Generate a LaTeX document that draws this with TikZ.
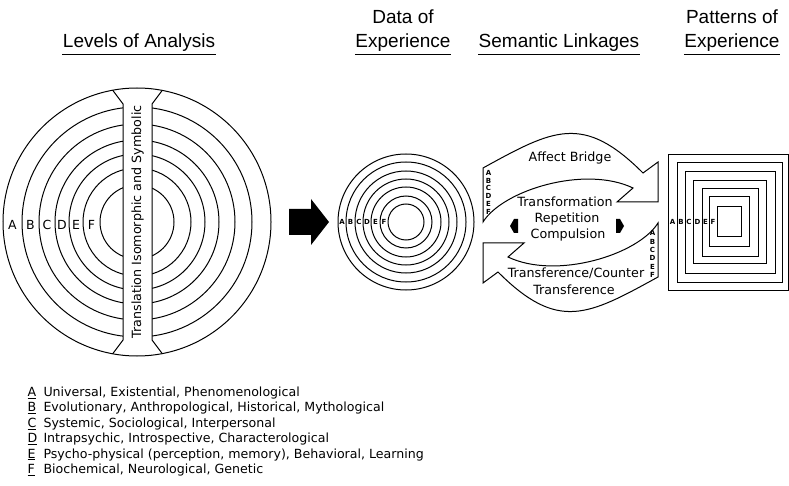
\documentclass[tikz,border=0pt]{standalone}
\usepackage{fontspec}
\setmainfont{DejaVu Sans}
\newfontfamily\headfont{Liberation Sans}

\begin{document}
\begin{tikzpicture}[x=1pt,y=-1pt,line width=1pt,
    head/.style={font=\headfont\fontsize{19}{19}\selectfont, inner sep=0pt},
    lab/.style={font=\fontsize{12.7}{13}\selectfont, inner sep=0pt},
    ring/.style={font=\fontsize{12.5}{12.5}\selectfont, inner sep=0pt},
    minilab/.style={font=\bfseries\fontsize{7}{7}\selectfont, inner sep=0pt},
    legend/.style={font=\fontsize{12.6}{12.6}\selectfont, inner sep=0pt, anchor=base west}]
    \useasboundingbox (0,0) rectangle (789,486);

    % headings
    \node[head, anchor=base] (levels) at (139,48) {Levels of Analysis};
    \node[head, anchor=base] (data-top) at (403,24) {Data of};
    \node[head, anchor=base] (data) at (403,48) {Experience};
    \node[head, anchor=base] (semantic) at (559,48) {Semantic Linkages};
    \node[head, anchor=base] (patterns-top) at (732,24) {Patterns of};
    \node[head, anchor=base] (patterns) at (732,48) {Experience};
    \foreach \h in {levels,data,semantic,patterns}
        \draw ([yshift=-2pt]\h.south west) -- ([yshift=-2pt]\h.south east);

    % levels of analysis
    \foreach \r in {115,98,82,68,54,37}
        \draw (137,222) circle [radius=\r pt];
    \begin{scope}
        \clip (137,222) circle [radius=134pt];
        \fill[white] (105,80) -- (123,104) -- (123,340) -- (105,364)
            -- (170,364) -- (152,340) -- (152,104) -- (170,80) -- cycle;
        \draw (105,80) -- (123,104) -- (123,340) -- (105,364);
        \draw (170,80) -- (152,104) -- (152,340) -- (170,364);
    \end{scope}
    \draw (137,222) circle [radius=134pt];
    \node[lab, rotate=90] (translation) at (137.5,222) {Translation Isomorphic and Symbolic};
    \foreach \l/\x in {A/12.5,B/30.5,C/47,D/62,E/76,F/91.5}
        \node[ring] (big-\l) at (\x,225) {\l};

    % arrow
    \fill (289,209) -- (311,209) -- (311,199) -- (329,222) -- (311,245)
        -- (311,235) -- (289,235) -- cycle;

    % data of experience
    \foreach \r in {68,60,51,43,35,26,18}
        \draw (406,222) circle [radius=\r pt];
    \foreach \l/\x in {A/342,B/350.5,C/359,D/367,E/375.5,F/384}
        \node[minilab] (data-\l) at (\x,222) {\l};

    % semantic linkages
    \foreach \a in {0,180}
    {
        \begin{scope}[rotate around={\a:(570.5,222.5)}]
            \draw (483,222) -- (483,168) .. controls (553,129.5) and (583,113) .. (643,173)
                -- (658,162) -- (658,202) -- (617,202) -- (633,188)
                .. controls (585,165) and (503,190) .. (483,222) -- cycle;
        \end{scope}
    }
    \foreach \l [count=\i] in {A,B,C,D,E,F}
    {
        \node[minilab] (up-\l) at (488.5,165+7.8*\i) {\l};
        \node[minilab] (down-\l) at (652.5,225+8.3*\i) {\l};
    }
    \node[lab] (bridge) at (570,158) {Affect Bridge};
    \node[lab] (transform) at (565,202) {Transformation};
    \node[lab] (repetition) at (567,218.5) {Repetition};
    \node[lab] (compulsion) at (568,235) {Compulsion};
    \node[lab] (counter) at (576,273) {Transference/Counter};
    \node[lab] (transference) at (574,290) {Transference};
    \fill (510,226) -- (514,219) -- (518,219) -- (518,233) -- (514,233) -- cycle;
    \fill (624,226) -- (620,219) -- (616,219) -- (616,233) -- (620,233) -- cycle;

    % patterns of experience
    \foreach \a/\b/\c/\d in {668/155/788/290, 677/163/782/282, 685/172/775/273,
        693/181/766/263, 702/189/758/256, 709/197/749/247, 717/207/741/237}
        \draw (\a,\b) rectangle (\c,\d);
    \foreach \l/\x in {A/672.5,B/681,C/689,D/697.5,E/705.5,F/713}
        \node[minilab] (pat-\l) at (\x,222) {\l};

    % legend
    \foreach \l/\t [count=\i] in {A/{Universal, Existential, Phenomenological},
        B/{Evolutionary, Anthropological, Historical, Mythological},
        C/{Systemic, Sociological, Interpersonal},
        D/{Intrapsychic, Introspective, Characterological},
        E/{Psycho-physical (perception, memory), Behavioral, Learning},
        F/{Biochemical, Neurological, Genetic}}
    {
        \node[legend] (key-\l) at (27,381+15.4*\i) {\underline{\l}};
        \node[legend] (text-\l) at (43,381+15.4*\i) {\t};
    }
\end{tikzpicture}
\end{document}
